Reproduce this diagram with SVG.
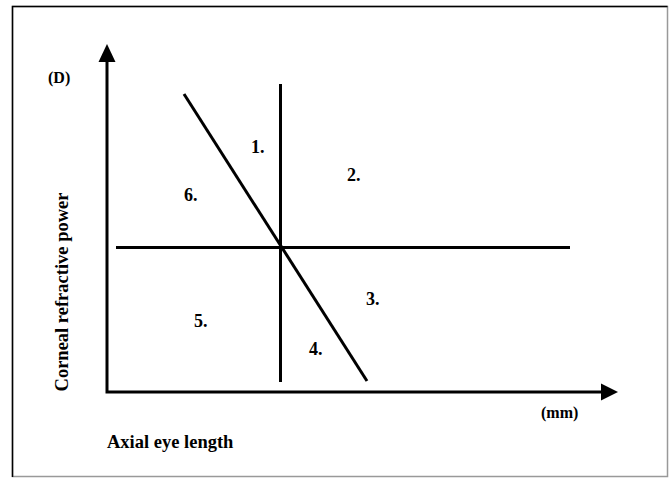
<svg xmlns="http://www.w3.org/2000/svg" width="669" height="478" viewBox="0 0 669 478">
<style>
.ln{stroke:#000;stroke-width:3;fill:none}
.t{font-family:"Liberation Serif","Times New Roman",serif;font-weight:bold;font-size:18px;fill:#000}
.big{font-size:18.5px}
.md{font-size:16px}
</style>
<rect x="0" y="0" width="669" height="478" fill="#fff"/>
<g id="frame">
<rect x="12.5" y="6.5" width="655" height="470" fill="none" stroke="#999" stroke-width="1.5"/>
<path d="M12.5 477V6.5H667.5" fill="none" stroke="#000" stroke-width="1.5"/>
</g>
<g id="connectors">
<path class="ln" d="M107 60V392H604"/>
<polygon points="107,44 98.5,62 115.5,62" fill="#000"/>
<polygon points="618,392 601,383.5 601,400.5" fill="#000"/>
<line class="ln" x1="116" y1="247.5" x2="570" y2="247.5"/>
<line class="ln" x1="280.5" y1="84" x2="280.5" y2="382"/>
<line class="ln" x1="184" y1="94" x2="367" y2="381"/>
</g>
<g id="labels">
<text class="t md" x="48" y="83">(D)</text>
<text class="t" x="251" y="153">1.</text>
<text class="t" x="347" y="181">2.</text>
<text class="t" x="184" y="201">6.</text>
<text class="t" x="366" y="305">3.</text>
<text class="t" x="194" y="327">5.</text>
<text class="t" x="309" y="355">4.</text>
<text class="t md" x="541" y="418">(mm)</text>
<text class="t big" x="107" y="448">Axial eye length</text>
<text class="t big" transform="translate(68,292) rotate(-90)" text-anchor="middle">Corneal refractive power</text>
</g>
</svg>
